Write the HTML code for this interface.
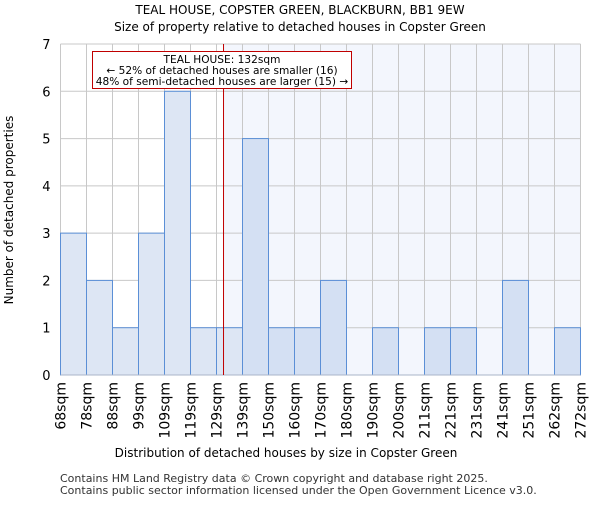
<!DOCTYPE html>
<html><head><meta charset="utf-8"><style>
body{margin:0;background:#fff;font-family:"Liberation Sans","DejaVu Sans",sans-serif}
svg text{font-family:"DejaVu Sans","Liberation Sans",sans-serif}
</style></head><body>
<svg id="chart" width="600" height="500">
<text x="300" y="14" text-anchor="middle" font-size="12">TEAL HOUSE, COPSTER GREEN, BLACKBURN, BB1 9EW</text>
<text x="300" y="31" text-anchor="middle" font-size="12">Size of property relative to detached houses in Copster Green</text>
<g id="plot"></g>
<text x="286" y="457" text-anchor="middle" font-size="12">Distribution of detached houses by size in Copster Green</text>
<text transform="translate(13,210) rotate(-90)" text-anchor="middle" font-size="12">Number of detached properties</text>
<text x="60" y="482" font-size="11" fill="#333">Contains HM Land Registry data © Crown copyright and database right 2025.</text>
<text x="60" y="494" font-size="11" fill="#333">Contains public sector information licensed under the Open Government Licence v3.0.</text>
</svg>
<script>
const binLabels=["68sqm","78sqm","88sqm","99sqm","109sqm","119sqm","129sqm","139sqm","150sqm","160sqm","170sqm","180sqm","190sqm","200sqm","211sqm","221sqm","231sqm","241sqm","251sqm","262sqm","272sqm"];
const counts=[3,2,1,3,6,1,1,5,1,1,2,0,1,0,1,1,0,2,0,1];
const yTicks=[0,1,2,3,4,5,6,7];
const markerIndex=6.27;
const NS="http://www.w3.org/2000/svg";
const g=document.getElementById('plot');
const L=60.5,R=580.5,T=44,B=375,nb=counts.length;
const xs=i=>L+(R-L)*i/nb;
const ys=v=>B-(B-T)*v/7;
function mk(t,a){const e=document.createElementNS(NS,t);for(const k in a)e.setAttribute(k,a[k]);g.appendChild(e);return e;}
const mx=xs(markerIndex);
let e=mk('rect',{x:mx,y:T,width:R-mx,height:B-T,fill:'#f3f6fd'});


yTicks.forEach(v=>{const l=mk('line',{x1:L,x2:R,y1:ys(v),y2:ys(v),stroke:'#c8c8c8'});


const t=mk('text',{x:L-10,y:ys(v)+5,'text-anchor':'end','font-size':13});t.textContent=v;

});
binLabels.forEach((s,i)=>{const l=mk('line',{x1:xs(i),x2:xs(i),y1:T,y2:B,stroke:'#c8c8c8'});


const t=mk('text',{transform:`translate(${xs(i)+5},382) rotate(-90)`,'text-anchor':'end','font-size':14});t.textContent=s;

});
counts.forEach((c,i)=>{if(!c)return;const r=mk('rect',{x:xs(i),y:ys(c),width:xs(i+1)-xs(i),height:B-ys(c),fill:i>=7?'#d4e0f3':'#dde6f4',stroke:'#5b8fd6','stroke-width':1});

});
e=mk('line',{x1:L,x2:R,y1:B,y2:B,stroke:'#aab4c8'});


e=mk('line',{x1:mx,x2:mx,y1:T,y2:B,stroke:'#c00000','stroke-width':1});


e=mk('rect',{x:92.5,y:51.5,width:259,height:37,fill:'#fff',stroke:'#c00000'});


["TEAL HOUSE: 132sqm","← 52% of detached houses are smaller (16)","48% of semi-detached houses are larger (15) →"].forEach((s,i)=>{const t=mk('text',{x:222,y:63+i*11,'text-anchor':'middle','font-size':10.6});t.textContent=s;

});
</script>
</body></html>
